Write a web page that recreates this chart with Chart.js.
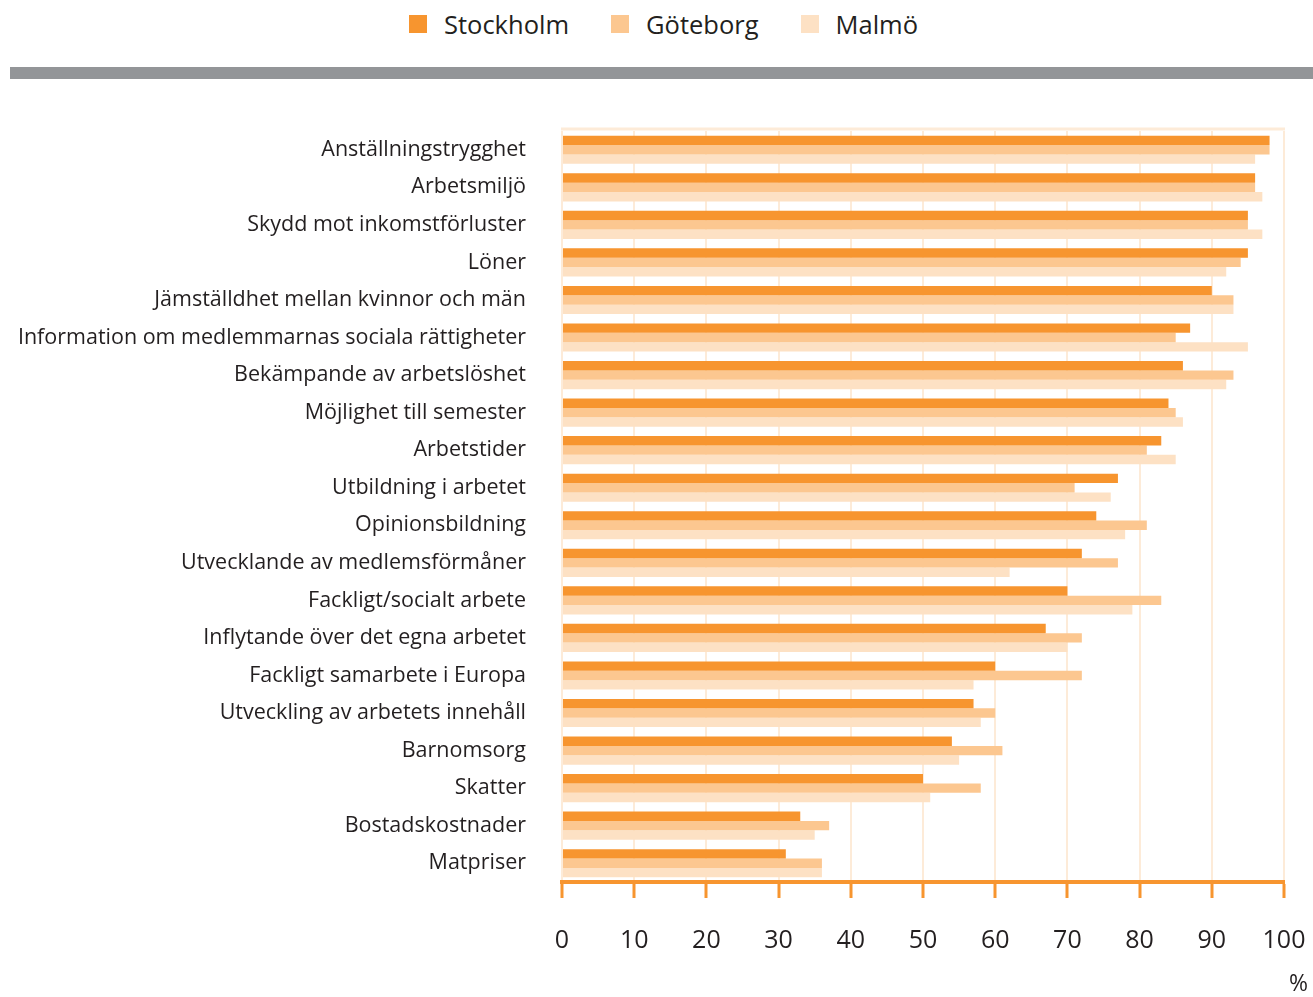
<!DOCTYPE html>
<html>
<head>
<meta charset="utf-8">
<script src="https://cdn.jsdelivr.net/npm/chart.js@4/dist/chart.umd.min.js"></script>
<style>
  body { margin: 0; background: #fff; }
  #wrap { position: relative; width: 1313px; height: 997px; }
  #legend {
    position: absolute; top: 6px; left: 0; width: 1313px; height: 36px;
    display: flex; justify-content: center; align-items: center;
    font-family: "Open Sans", sans-serif; font-size: 25.5px; color: #231f20;
    padding-left: 14px; box-sizing: border-box;
  }
  #legend span.item { display: flex; align-items: center; margin: 0 21px; }
  #legend span.box { width: 18px; height: 18px; margin-right: 17px; display: inline-block; }
  #band { position: absolute; top: 67px; left: 10px; width: 1303px; height: 12px; background: #939598; }
  canvas { position: absolute; top: 0; left: 0; }
</style>
</head>
<body>
<div id="wrap">
  <div id="legend"></div>
  <div id="band"></div>
  <canvas id="chart" width="1313" height="997"></canvas>
</div>
<script>
// Categories (top to bottom)
const categories = [
  'Anställningstrygghet',
  'Arbetsmiljö',
  'Skydd mot inkomstförluster',
  'Löner',
  'Jämställdhet mellan kvinnor och män',
  'Information om medlemmarnas sociala rättigheter',
  'Bekämpande av arbetslöshet',
  'Möjlighet till semester',
  'Arbetstider',
  'Utbildning i arbetet',
  'Opinionsbildning',
  'Utvecklande av medlemsförmåner',
  'Fackligt/socialt arbete',
  'Inflytande över det egna arbetet',
  'Fackligt samarbete i Europa',
  'Utveckling av arbetets innehåll',
  'Barnomsorg',
  'Skatter',
  'Bostadskostnader',
  'Matpriser'
];

// Series values (%)
const stockholm = [98, 96, 95, 95, 90, 87, 86, 84, 83, 77, 74, 72, 70, 67, 60, 57, 54, 50, 33, 31];
const goteborg  = [98, 96, 95, 94, 93, 85, 93, 85, 81, 71, 81, 77, 83, 72, 72, 60, 61, 58, 37, 36];
const malmo     = [96, 97, 97, 92, 93, 95, 92, 86, 85, 76, 78, 62, 79, 70, 57, 58, 55, 51, 35, 36];

const seriesNames = ['Stockholm', 'Göteborg', 'Malmö'];
const seriesColors = ['#f7952f', '#fcc790', '#fde1c4'];

// X axis ticks
const xTicks = [0, 10, 20, 30, 40, 50, 60, 70, 80, 90, 100];
const unitLabel = '%';

const fontFamily = '"Open Sans", sans-serif';
const textColor = '#231f20';

// HTML legend
const legendEl = document.getElementById('legend');
seriesNames.forEach((name, i) => {
  const item = document.createElement('span');
  item.className = 'item';
  item.innerHTML = `<span class="box" style="background:${seriesColors[i]}"></span>${name}`;
  legendEl.appendChild(item);
});

// Top frame line + unit label
const framePlugin = {
  id: 'frame',
  beforeDatasetsDraw(chart) {
    const { ctx, chartArea } = chart;
    ctx.save();
    ctx.strokeStyle = '#fdebd8';
    ctx.lineWidth = 3;
    ctx.beginPath();
    ctx.moveTo(chartArea.left - 1, chartArea.top - 2);
    ctx.lineTo(chartArea.right + 1, chartArea.top - 2);
    ctx.stroke();
    ctx.restore();
  },
  afterDraw(chart) {
    const { ctx, chartArea } = chart;
    ctx.save();
    ctx.fillStyle = textColor;
    ctx.font = '23px ' + fontFamily;
    ctx.textAlign = 'right';
    ctx.textBaseline = 'middle';
    ctx.fillText(unitLabel, chartArea.right + 24, 984);
    ctx.restore();
  }
};

new Chart(document.getElementById('chart'), {
  type: 'bar',
  data: {
    labels: categories,
    datasets: [
      { label: seriesNames[0], data: stockholm, backgroundColor: seriesColors[0] },
      { label: seriesNames[1], data: goteborg, backgroundColor: seriesColors[1] },
      { label: seriesNames[2], data: malmo, backgroundColor: seriesColors[2] }
    ]
  },
  options: {
    indexAxis: 'y',
    responsive: false,
    animation: false,
    layout: { padding: { top: 131, right: 29, left: 0, bottom: 0 } },
    datasets: { bar: { categoryPercentage: 0.75, barPercentage: 1.0, borderWidth: 0 } },
    plugins: {
      legend: { display: false },
      tooltip: { enabled: false }
    },
    scales: {
      x: {
        min: 0,
        max: 100,
        afterBuildTicks: (axis) => { axis.ticks = xTicks.map(v => ({ value: v })); },
        afterFit: (axis) => {
          axis.height = 115;
          axis.paddingLeft = 0;
          axis.paddingRight = 0;
        },
        grid: {
          color: '#fdebd8',
          lineWidth: 2,
          tickColor: '#f7952f',
          tickWidth: 3,
          tickLength: 16
        },
        border: { color: '#f7952f', width: 4 },
        ticks: {
          color: textColor,
          font: { family: fontFamily, size: 25 },
          padding: 28
        }
      },
      y: {
        afterFit: (axis) => { axis.width = 562; },
        grid: { display: false },
        border: { display: false },
        ticks: {
          color: textColor,
          font: { family: fontFamily, size: 21.5 },
          padding: 28
        }
      }
    }
  },
  plugins: [framePlugin]
});
</script>
</body>
</html>
